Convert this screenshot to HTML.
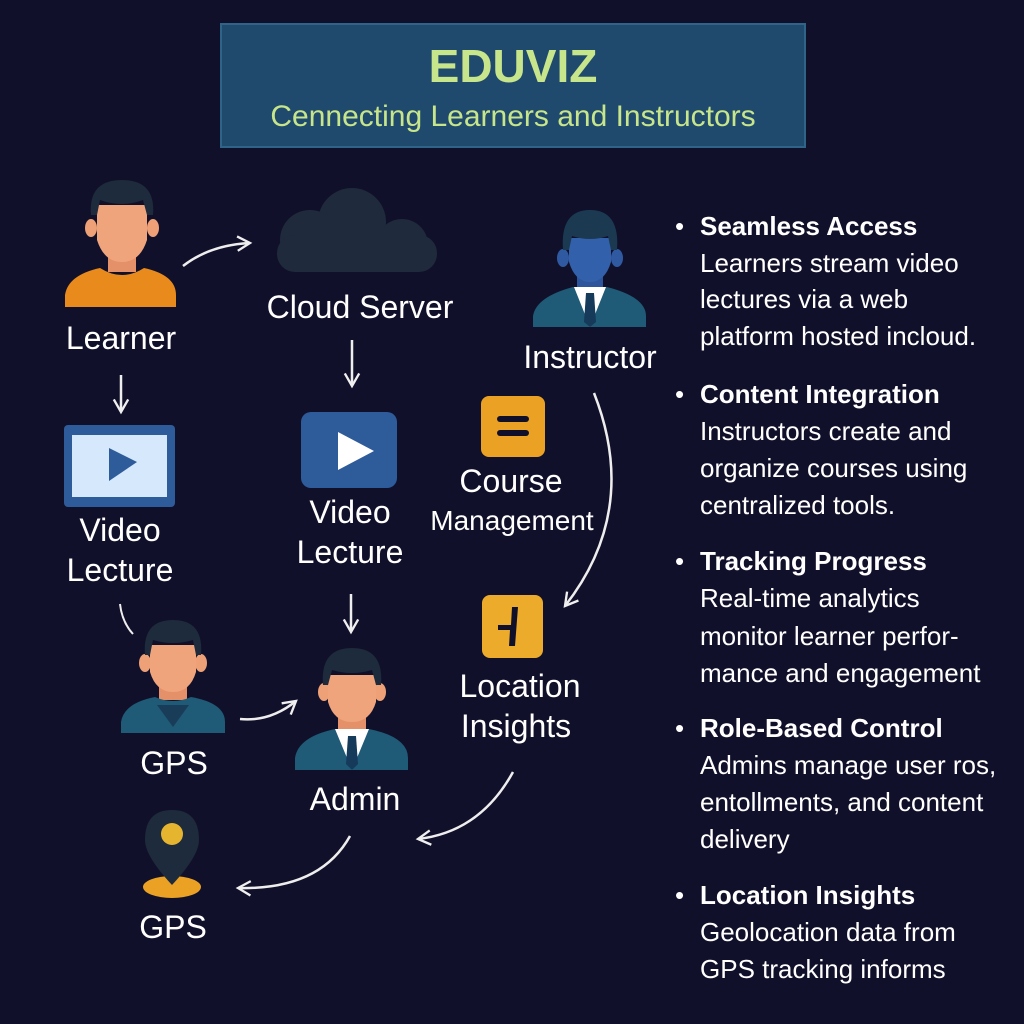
<!DOCTYPE html>
<html><head><meta charset="utf-8"><style>
html,body{margin:0;padding:0;background:#11102a;}
svg{display:block}
text{font-family:"Liberation Sans",sans-serif;fill:#fff}
</style></head><body>
<svg width="1024" height="1024" viewBox="0 0 1024 1024" xmlns="http://www.w3.org/2000/svg">
<defs>
<marker id="ah" viewBox="0 0 10 10" refX="8" refY="5" markerWidth="9" markerHeight="9" markerUnits="userSpaceOnUse" orient="auto-start-reverse">
<path d="M1,1 L8,5 L1,9" fill="none" stroke="#f0f0f0" stroke-width="1.3"/>
</marker>
<marker id="ah2" viewBox="0 0 10 10" refX="8" refY="5" markerWidth="18" markerHeight="18" markerUnits="userSpaceOnUse" orient="auto-start-reverse">
<path d="M1,1 L8,5 L1,9" fill="none" stroke="#f0f0f0" stroke-width="1.3"/>
</marker>
</defs>
<rect width="1024" height="1024" fill="#11102a"/>
<!-- title -->
<rect x="221" y="24" width="584" height="123" fill="#1f4a6d" stroke="#2f6388" stroke-width="2"/>
<text x="513" y="82" text-anchor="middle" font-size="46" font-weight="bold" style="fill:#c7e58a">EDUVIZ</text>
<text x="513" y="126" text-anchor="middle" font-size="30" style="fill:#c7e58a">Cennecting Learners and Instructors</text>

<!-- Learner -->
<g>
<ellipse cx="91" cy="228" rx="6" ry="9" fill="#eea077"/><ellipse cx="153" cy="228" rx="6" ry="9" fill="#eea077"/>
<rect x="108" y="250" width="28" height="22" fill="#e49068"/>
<path d="M97,205 L147,205 L147,240 Q140,262 122,262 Q104,262 97,240 Z" fill="#f0a47c"/>
<path d="M91,215 Q88,180 122,180 Q156,180 153,215 L147,215 L143,200 Q122,208 100,200 L97,215 Z" fill="#1d2b3c"/>
<path d="M65,307 L65,295 Q68,275 100,268 Q122,282 144,268 Q176,275 176,295 L176,307 Z" fill="#e88a1c"/>
</g>
<text x="121" y="349" text-anchor="middle" font-size="32">Learner</text>
<line x1="121" y1="375" x2="121" y2="412" stroke="#eee" stroke-width="2.5" marker-end="url(#ah2)"/>
<!-- Video 1 -->
<rect x="64" y="425" width="111" height="82" rx="4" fill="#2e5b9a"/>
<rect x="72" y="435" width="95" height="62" fill="#d6e8fb"/>
<path d="M109,448 L137,462 L109,481 Z" fill="#2e5b9a"/>
<text x="120" y="541" text-anchor="middle" font-size="32">Video</text>
<text x="120" y="581" text-anchor="middle" font-size="32">Lecture</text>
<path d="M120,604 Q122,622 133,634" fill="none" stroke="#eee" stroke-width="2"/>

<!-- Learner to cloud -->
<path d="M183,266 Q210,245 250,243" fill="none" stroke="#eee" stroke-width="2.5" marker-end="url(#ah2)"/>
<!-- Cloud -->
<g fill="#1f2a3c">
<circle cx="352" cy="222" r="34"/><circle cx="310" cy="240" r="30"/><circle cx="402" cy="245" r="26"/>
<rect x="277" y="235" width="160" height="37" rx="18"/>
</g>
<text x="360" y="318" text-anchor="middle" font-size="32">Cloud Server</text>
<line x1="352" y1="340" x2="352" y2="386" stroke="#eee" stroke-width="2.5" marker-end="url(#ah2)"/>
<!-- Video 2 -->
<rect x="301" y="412" width="96" height="76" rx="10" fill="#2e5b9a"/>
<path d="M338,432 L374,451 L338,470 Z" fill="#fff"/>
<text x="350" y="523" text-anchor="middle" font-size="32">Video</text>
<text x="350" y="563" text-anchor="middle" font-size="32">Lecture</text>
<line x1="351" y1="594" x2="351" y2="632" stroke="#eee" stroke-width="2.5" marker-end="url(#ah2)"/>

<!-- GPS person -->
<g>
<ellipse cx="145" cy="663" rx="6" ry="9" fill="#eea077"/><ellipse cx="201" cy="663" rx="6" ry="9" fill="#eea077"/>
<rect x="159" y="680" width="28" height="20" fill="#e49068"/>
<path d="M150,645 L196,645 L196,672 Q190,692 173,692 Q156,692 150,672 Z" fill="#f0a47c"/>
<path d="M145,655 Q142,620 173,620 Q204,620 201,655 L196,655 L193,640 Q173,646 153,640 L150,655 Z" fill="#1d2b3c"/>
<path d="M121,733 L121,722 Q124,703 155,697 Q173,705 191,697 Q225,703 225,722 L225,733 Z" fill="#1f5a76"/>
<path d="M157,705 L173,727 L189,705 Z" fill="#193d59"/>
</g>
<text x="174" y="774" text-anchor="middle" font-size="32">GPS</text>
<path d="M240,719 Q270,722 296,701" fill="none" stroke="#eee" stroke-width="2.5" marker-end="url(#ah2)"/>

<!-- Admin -->
<g>
<ellipse cx="324" cy="692" rx="6" ry="9" fill="#eea077"/><ellipse cx="380" cy="692" rx="6" ry="9" fill="#eea077"/>
<rect x="338" y="710" width="28" height="20" fill="#e49068"/>
<path d="M328,675 L376,675 L376,702 Q370,722 352,722 Q334,722 328,702 Z" fill="#f0a47c"/>
<path d="M323,685 Q320,648 352,648 Q384,648 381,685 L376,685 L372,670 Q352,676 332,670 L328,685 Z" fill="#1d2b3c"/>
<path d="M295,770 L295,758 Q298,737 335,729 L369,729 Q408,737 408,758 L408,770 Z" fill="#1f5a76"/>
<path d="M335,729 L352,770 L369,729 Z" fill="#fff"/>
<path d="M348,736 L356,736 L358,764 L352,770 L346,764 Z" fill="#163a5a"/>
</g>
<text x="355" y="810" text-anchor="middle" font-size="32">Admin</text>
<path d="M350,836 Q320,890 238,888" fill="none" stroke="#eee" stroke-width="2.5" marker-end="url(#ah2)"/>
<!-- GPS pin -->
<ellipse cx="172" cy="887" rx="29" ry="11" fill="#eba224"/>
<path d="M172,810 Q199,810 199,840 Q199,856 172,885 Q145,856 145,840 Q145,810 172,810 Z" fill="#1e2b3c"/>
<circle cx="172" cy="834" r="11" fill="#e5b530"/>
<text x="173" y="938" text-anchor="middle" font-size="32">GPS</text>

<!-- Instructor -->
<g>
<ellipse cx="563" cy="258" rx="6" ry="9" fill="#2f5aa2"/><ellipse cx="617" cy="258" rx="6" ry="9" fill="#2f5aa2"/>
<rect x="577" y="274" width="26" height="16" fill="#2d559b"/>
<path d="M569,238 L611,238 L611,262 Q605,282 590,282 Q575,282 569,262 Z" fill="#3260aa"/>
<path d="M563,250 Q560,210 590,210 Q620,210 617,250 L611,250 L608,236 Q590,242 572,236 L569,250 Z" fill="#1b3a52"/>
<path d="M533,327 L533,316 Q536,297 573,287 L607,287 Q646,297 646,316 L646,327 Z" fill="#1f5a76"/>
<path d="M574,287 L590,327 L606,287 Z" fill="#fff"/>
<path d="M586,293 L594,293 L596,322 L590,327 L584,322 Z" fill="#163a5a"/>
</g>
<text x="590" y="368" text-anchor="middle" font-size="32">Instructor</text>
<!-- Course -->
<rect x="481" y="396" width="64" height="61" rx="8" fill="#eba224"/>
<rect x="497" y="416" width="32" height="6" rx="3" fill="#11102a"/>
<rect x="497" y="430" width="32" height="6" rx="3" fill="#11102a"/>
<text x="511" y="492" text-anchor="middle" font-size="32">Course</text>
<text x="512" y="530" text-anchor="middle" font-size="28">Management</text>
<path d="M594,393 Q640,510 565,606" fill="none" stroke="#eee" stroke-width="2.5" marker-end="url(#ah2)"/>
<!-- Location -->
<rect x="482" y="595" width="61" height="63" rx="8" fill="#ecab2a"/>
<path d="M512,607 L518,607 L515,646 L509,646 L510,630 L498,630 L498,625 L511,625 Z" fill="#11102a"/>
<text x="520" y="697" text-anchor="middle" font-size="32">Location</text>
<text x="516" y="737" text-anchor="middle" font-size="32">Insights</text>
<path d="M513,772 Q480,832 418,839" fill="none" stroke="#eee" stroke-width="2.5" marker-end="url(#ah2)"/>

<!-- right column -->
<g font-size="26">
<text x="675" y="235">•</text><text x="700" y="235" font-weight="bold">Seamless Access</text>
<text x="700" y="272">Learners stream video</text>
<text x="700" y="308">lectures via a web</text>
<text x="700" y="345">platform hosted incloud.</text>
<text x="675" y="403">•</text><text x="700" y="403" font-weight="bold">Content Integration</text>
<text x="700" y="440">Instructors create and</text>
<text x="700" y="477">organize courses using</text>
<text x="700" y="514">centralized tools.</text>
<text x="675" y="570">•</text><text x="700" y="570" font-weight="bold">Tracking Progress</text>
<text x="700" y="607">Real-time analytics</text>
<text x="700" y="645">monitor learner perfor-</text>
<text x="700" y="682">mance and engagement</text>
<text x="675" y="737">•</text><text x="700" y="737" font-weight="bold">Role-Based Control</text>
<text x="700" y="774">Admins manage user ros,</text>
<text x="700" y="811">entollments, and content</text>
<text x="700" y="848">delivery</text>
<text x="675" y="904">•</text><text x="700" y="904" font-weight="bold">Location Insights</text>
<text x="700" y="941">Geolocation data from</text>
<text x="700" y="978">GPS tracking informs</text>
</g>
</svg>
</body></html>
